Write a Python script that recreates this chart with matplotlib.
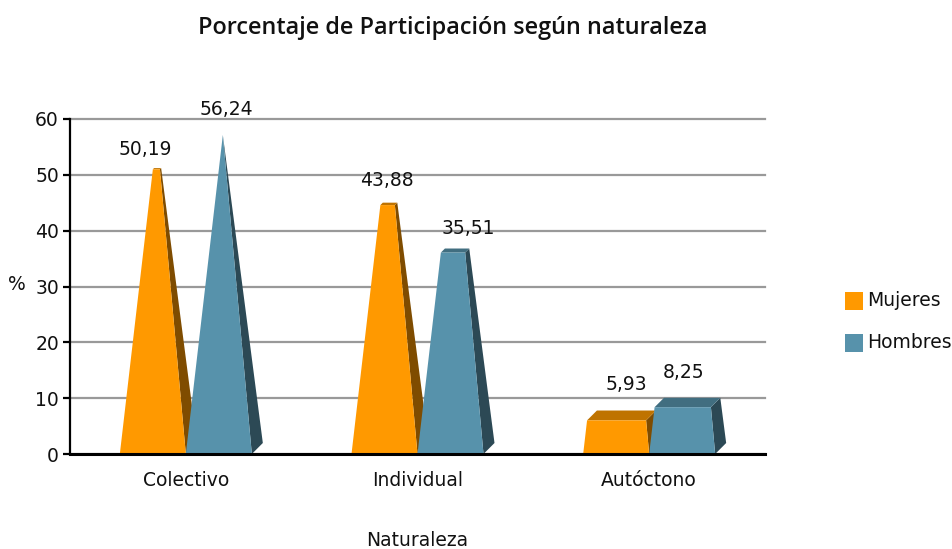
import matplotlib
matplotlib.use("Agg")
import matplotlib.pyplot as plt
from matplotlib.patches import Polygon, Rectangle

# ---------------------------
# Data
# ---------------------------
categories = ["Colectivo", "Individual", "Autóctono"]
mujeres = [50.19, 43.88, 5.93]
hombres = [56.24, 35.51, 8.25]
mujeres_labels = ["50,19", "43,88", "5,93"]
hombres_labels = ["56,24", "35,51", "8,25"]
y_ticks = [0, 10, 20, 30, 40, 50, 60]

# label offsets from the bar's left base corner and front top, in pixels
mujeres_offsets = [(25, 24), (35, 29), (43, 36)]
hombres_offsets = [(41, 30), (51, 27), (34, 35)]

ORANGE = ("#ff9900", "#bf7300", "#7f4c00")
BLUE = ("#5792ab", "#416e80", "#2c4955")

W, H = 952, 549
AX_L, AX_R, AX_T, AX_B = 70, 765, 119, 454
TEXT_COLOR = "#111111"
FS = 13.5

plt.rcParams["font.family"] = "DejaVu Sans"

fig = plt.figure(figsize=(W / 100, H / 100), dpi=100)
ax = fig.add_axes([AX_L / W, 1 - AX_B / H, (AX_R - AX_L) / W, (AX_B - AX_T) / H])
ax.set_xlim(0, AX_R - AX_L)   # x is in pixels across the plot
ax.set_ylim(0, 60)
ppu = (AX_B - AX_T) / 60.0

BAR_W = 66.0
DEPTH = 11.0
DRAW_SCALE = 1.016            # the original draws bars slightly above their labels
APEX_V = max(hombres) * DRAW_SCALE
APEX_DX = 37.0


def pyramid(x0, value, colors, zorder):
    """Bar tapering to a common apex height, with a top and a right side face."""
    x1 = x0 + BAR_W
    ax_x = x0 + APEX_DX
    t = value * DRAW_SCALE / APEX_V
    d_v = DEPTH / ppu

    def on_edge(bx, bv):
        return (bx + (ax_x - bx) * t, bv + (APEX_V - bv) * t)

    fl = on_edge(x0, 0)
    fr = on_edge(x1, 0)
    br = on_edge(x1 + DEPTH, d_v)
    bl = on_edge(x0 + DEPTH, d_v)
    ax.add_patch(Polygon([(x1, 0), (x1 + DEPTH, d_v), br, fr], fc=colors[2], lw=0, zorder=zorder))
    ax.add_patch(Polygon([fl, fr, br, bl], fc=colors[1], lw=0, zorder=zorder))
    ax.add_patch(Polygon([(x0, 0), (x1, 0), fr, fl], fc=colors[0], lw=0, zorder=zorder + 0.1))


def value_label(x0, value, text, offset):
    ax.text(x0 + offset[0], value + offset[1] / ppu, text, ha="center", va="center",
            fontsize=FS, color=TEXT_COLOR, zorder=6, clip_on=False)


group_w = (AX_R - AX_L) / len(categories)
for i, cat in enumerate(categories):
    c = group_w * (i + 0.5)
    pyramid(c - BAR_W, mujeres[i], ORANGE, 3)
    pyramid(c, hombres[i], BLUE, 3.5)
    value_label(c - BAR_W, mujeres[i], mujeres_labels[i], mujeres_offsets[i])
    value_label(c, hombres[i], hombres_labels[i], hombres_offsets[i])

for side in ("top", "right"):
    ax.spines[side].set_visible(False)
ax.spines["left"].set_linewidth(1.6)
ax.spines["bottom"].set_linewidth(2.2)
for side in ("left", "bottom"):
    ax.spines[side].set_color("black")
    ax.spines[side].set_zorder(5)

ax.set_yticks(y_ticks)
ax.yaxis.grid(True, color="#999999", lw=1.6, zorder=1, clip_on=False)
ax.set_axisbelow(True)
ax.tick_params(axis="y", length=5, width=1.6, labelsize=FS, pad=3, labelcolor=TEXT_COLOR)
ax.tick_params(axis="x", length=0, labelsize=FS, pad=12, labelcolor=TEXT_COLOR)
ax.set_xticks([group_w * (i + 0.5) for i in range(len(categories))])
ax.set_xticklabels(categories)

fig.text(453 / W, 1 - 28 / H, "Porcentaje de Participación según naturaleza",
         ha="center", va="center", fontsize=16.95, fontweight="semibold",
         family="Open Sans", color=TEXT_COLOR)
fig.text(417 / W, 1 - 540 / H, "Naturaleza", ha="center", va="center", fontsize=FS, color=TEXT_COLOR)
fig.text(17 / W, 1 - 284 / H, "%", ha="center", va="center", fontsize=FS, color=TEXT_COLOR)

# legend, hand placed like the original
for label, col, y in (("Mujeres", ORANGE[0], 301), ("Hombres", BLUE[0], 343)):
    fig.patches.append(Rectangle((845 / W, 1 - (y + 9) / H), 18 / W, 18 / H, fc=col, lw=0,
                                 transform=fig.transFigure))
    fig.text(867 / W, 1 - y / H, label, ha="left", va="center", fontsize=FS, color=TEXT_COLOR)

fig.savefig("out.png", dpi=100)
